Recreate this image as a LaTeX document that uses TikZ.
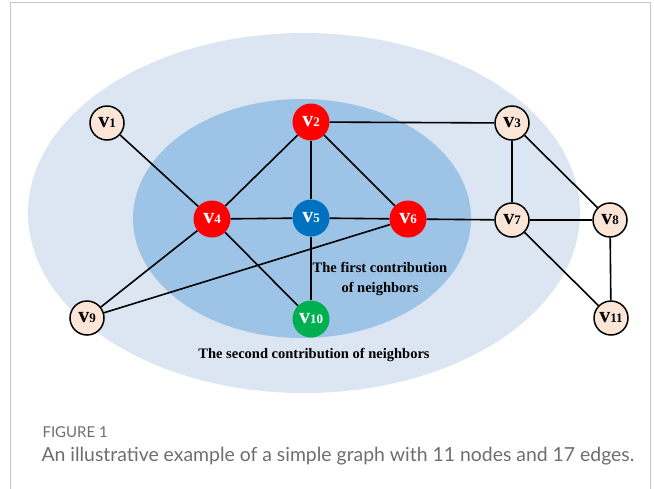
\documentclass[tikz,border=0pt]{standalone}
\usepackage{fontspec}
\setmainfont{Liberation Serif}
\newfontfamily\capfont{Lato}
\definecolor{outerblue}{HTML}{DCE6F2}
\definecolor{innerblue}{HTML}{9DC3E6}
\definecolor{peach}{HTML}{FBE5D6}
\definecolor{nred}{HTML}{FF0000}
\definecolor{nblue}{HTML}{0070C0}
\definecolor{ngreen}{HTML}{00B050}
\definecolor{capgray}{HTML}{6E6E6E}
\definecolor{framegray}{HTML}{C8C8C8}
\newcommand{\vlab}[1]{\fontsize{22}{22}\selectfont\bfseries v\fontsize{13}{13}\selectfont #1}
\tikzset{
  vnode/.style={circle, minimum size=34pt, inner sep=0pt, draw=black, line width=1.5pt, fill=peach, text=black},
  rnode/.style={circle, minimum size=37pt, inner sep=0pt, fill=nred, text=white},
  bnode/.style={circle, minimum size=37pt, inner sep=0pt, fill=nblue, text=white},
  gnode/.style={circle, minimum size=37pt, inner sep=0pt, fill=ngreen, text=white},
  edge/.style={line width=1.6pt, black},
  lbl/.style={font=\fontsize{14.5}{20}\selectfont\bfseries, align=center, text=black}
}
\begin{document}
\begin{tikzpicture}[x=1pt, y=-1pt]
\useasboundingbox (0,0) rectangle (654,488);
\fill[white] (0,0) rectangle (654,488);
\draw[framegray, line width=1pt] (10,492) -- (10,2) -- (650,2) -- (650,492);
% ellipses
\fill[outerblue] (304,213) ellipse [x radius=276, y radius=180];
\fill[innerblue] (302,218.5) ellipse [x radius=169, y radius=119.5];
% nodes
\node[vnode] (v1) at (107,123) {\vlab{1}};
\node[rnode] (v2) at (311,122) {\vlab{2}};
\node[vnode] (v3) at (512,123) {\vlab{3}};
\node[rnode] (v4) at (212,219) {\vlab{4}};
\node[bnode] (v5) at (311,218) {\vlab{5}};
\node[rnode] (v6) at (408,219) {\vlab{6}};
\node[vnode] (v7) at (512,220) {\vlab{7}};
\node[vnode] (v8) at (610,220) {\vlab{8}};
\node[vnode] (v9) at (87,318) {\vlab{9}};
\node[gnode] (v10) at (311,319) {\vlab{10}};
\node[vnode] (v11) at (611,318) {\vlab{11}};
% edges
\draw[edge] (v1) -- (v4);
\draw[edge] (v2) -- (v4);
\draw[edge] (v2) -- (v5);
\draw[edge] (v2) -- (v6);
\draw[edge] (v2) -- (v3);
\draw[edge] (v4) -- (v5);
\draw[edge] (v5) -- (v6);
\draw[edge] (v6) -- (v7);
\draw[edge] (v4) -- (v9);
\draw[edge] (v4) -- (v10);
\draw[edge] (v5) -- (v10);
\draw[edge] (v6) -- (v9);
\draw[edge] (v3) -- (v7);
\draw[edge] (v3) -- (v8);
\draw[edge] (v7) -- (v8);
\draw[edge] (v7) -- (v11);
\draw[edge] (v8) -- (v11);
% labels
\node[lbl] (first) at (380,279) {The first contribution\\of neighbors};
\node[lbl] (second) at (314,355) {The second contribution of neighbors};
% caption
\node[anchor=west, text=capgray, font=\capfont\fontsize{15}{15}\selectfont] (fig) at (39,432) {FIGURE 1};
\node[anchor=west, text=capgray, font=\capfont\fontsize{19.4}{19.4}\selectfont] (cap) at (38,456) {An illustrative example of a simple graph with 11 nodes and 17 edges.};
\end{tikzpicture}
\end{document}
